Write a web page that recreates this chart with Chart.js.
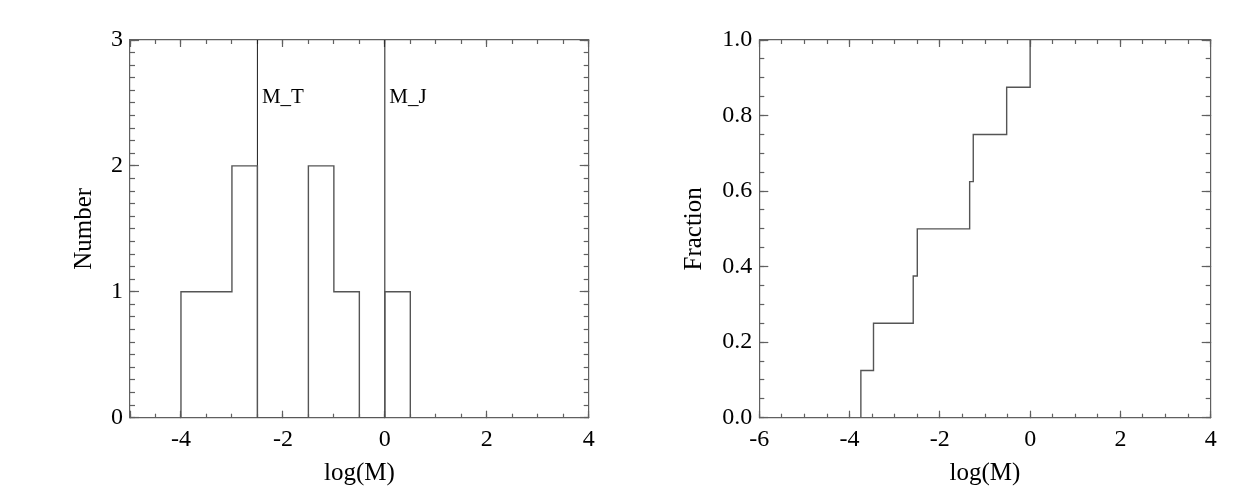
<!DOCTYPE html>
<html>
<head>
<meta charset="utf-8">
<script src="https://cdn.jsdelivr.net/npm/chart.js@4.4.0/dist/chart.umd.min.js"></script>
<style>
  body { margin: 0; background: #fff; }
  #wrap { position: relative; width: 1252px; height: 493px; }
  canvas { position: absolute; top: 0; }
</style>
</head>
<body>
<div id="wrap">
  <canvas id="hist" width="626" height="493" style="left:0"></canvas>
  <canvas id="cdf" width="626" height="493" style="left:626px"></canvas>
</div>
<script>
// histogram of log(M): left bin edges (width 0.5) and counts
const binEdges = [-4, -3.5, -3, -2.5, -2, -1.5, -1, -0.5, 0, 0.5];
const binCounts = [1, 1, 2, 0, 0, 2, 1, 0, 1];

// reference masses drawn as vertical lines
const markerNames = ['M_T', 'M_J'];
const markerLogM = [-2.5, 0];
const markerLabelY = 2.5;

// cumulative distribution
const sortedLogM = [-3.75, -3.47, -2.59, -2.50, -1.34, -1.26, -0.52, 0.0];
const cumFraction = [0.125, 0.25, 0.375, 0.5, 0.625, 0.75, 0.875, 1.0];

// axes
const histXRange = [-5, 4];
const histYRange = [0, 3];
const cdfXRange = [-6, 4];
const cdfYRange = [0, 1];
const xMajorTicks = [-6, -4, -2, 0, 2, 4];

const FONT = 'Liberation Serif';
const AXIS_COLOR = '#606060';
const LINE_COLOR = '#555';

// one side of the frame: a major axis (longer ticks, maybe labels) and a minor one
function sideAxes(id, pos, range, majorStep, minorStep, majorLen, minorLen, extra) {
    extra = extra || {};
    let horizontal = (pos === 'top' || pos === 'bottom');
    let size = extra.size || 0;
    let major = {
        type: 'linear',
        position: pos,
        min: range[0],
        max: range[1],
        weight: 1,
        grid: {
            drawOnChartArea: false,
            tickLength: -majorLen,
            tickColor: AXIS_COLOR,
            tickWidth: 1.2
        },
        border: { display: true, color: AXIS_COLOR, width: 1.2 },
        ticks: {
            display: !!extra.label,
            stepSize: majorStep,
            padding: extra.pad || 0,
            color: '#000',
            font: { family: FONT, size: 24 },
            maxRotation: 0,
            autoSkip: false,
            callback: extra.label || function () { return ''; }
        },
        title: {
            display: !!extra.title,
            text: extra.title || '',
            color: '#000',
            font: { family: FONT, size: 25 },
            padding: extra.titlePad || 0
        },
        afterFit: function (scale) {
            if (horizontal) scale.height = size; else scale.width = size;
        }
    };
    let minor = {
        type: 'linear',
        position: pos,
        min: range[0],
        max: range[1],
        weight: 0,
        grid: {
            drawOnChartArea: false,
            tickLength: -minorLen,
            tickColor: AXIS_COLOR,
            tickWidth: 1.2
        },
        border: { display: false },
        ticks: { display: false, stepSize: minorStep, autoSkip: false },
        afterFit: function (scale) {
            if (horizontal) scale.height = 0; else scale.width = 0;
        }
    };
    let out = {};
    out[id] = major;
    out[id + 'Minor'] = minor;
    return out;
}

function buildScales(xRange, yRange, yMajor, yMinor, yLabel, yTitle, yWidth, yTitlePad) {
    return Object.assign({},
        sideAxes('x', 'bottom', xRange, 2, 0.5, 7, 4, {
            size: 75.3, pad: 15, title: 'log(M)', titlePad: { top: 0, bottom: 4.5 },
            label: function (v) { return xMajorTicks.includes(v) ? String(v) : ''; }
        }),
        sideAxes('xTop', 'top', xRange, 2, 0.5, 7, 4),
        sideAxes('y', 'left', yRange, yMajor, yMinor, 9, 5, {
            size: yWidth, pad: 16, title: yTitle, titlePad: { top: yTitlePad, bottom: 0 },
            label: yLabel
        }),
        sideAxes('yRight', 'right', yRange, yMajor, yMinor, 9, 5)
    );
}

function stepLine(points, color, width) {
    return {
        data: points,
        borderColor: color,
        borderWidth: width,
        pointRadius: 0,
        stepped: true,
        fill: false,
        xAxisID: 'x',
        yAxisID: 'y'
    };
}

// histogram outline points
let histPoints = [{ x: binEdges[0], y: 0 }];
for (let i = 0; i < binCounts.length; i++) {
    histPoints.push({ x: binEdges[i], y: binCounts[i] });
}
histPoints.push({ x: binEdges[binEdges.length - 1], y: 0 });

let histDatasets = [stepLine(histPoints, LINE_COLOR, 1.4)];
markerLogM.forEach(function (m) {
    histDatasets.push(stepLine([{ x: m, y: histYRange[0] }, { x: m, y: histYRange[1] }], '#1a1a1a', 1));
});

let cdfPoints = [{ x: sortedLogM[0], y: 0 }];
for (let i = 0; i < sortedLogM.length; i++) {
    cdfPoints.push({ x: sortedLogM[i], y: cumFraction[i] });
}

const markerLabels = {
    id: 'markerLabels',
    afterDatasetsDraw: function (chart) {
        let ctx = chart.ctx, xs = chart.scales.x, ys = chart.scales.y;
        ctx.save();
        ctx.font = '21px "' + FONT + '"';
        ctx.fillStyle = '#000';
        ctx.textBaseline = 'alphabetic';
        markerNames.forEach(function (name, i) {
            ctx.fillText(name, xs.getPixelForValue(markerLogM[i]) + 4.5, ys.getPixelForValue(markerLabelY));
        });
        ctx.restore();
    }
};

const common = {
    responsive: false,
    animation: false,
    plugins: { legend: { display: false }, tooltip: { enabled: false } }
};

new Chart(document.getElementById('hist'), {
    type: 'line',
    data: { datasets: histDatasets },
    options: Object.assign({}, common, {
        layout: { padding: { left: 0, top: 40, right: 37.3, bottom: 0 } },
        scales: buildScales(histXRange, histYRange, 1, 0.1,
            function (v) { return Number.isInteger(v) ? String(v) : ''; },
            'Number', 130, 69)
    }),
    plugins: [markerLabels]
});

new Chart(document.getElementById('cdf'), {
    type: 'line',
    data: { datasets: [stepLine(cdfPoints, LINE_COLOR, 1.4)] },
    options: Object.assign({}, common, {
        layout: { padding: { left: 0, top: 40, right: 41.3, bottom: 0 } },
        scales: buildScales(cdfXRange, cdfYRange, 0.2, 0.05,
            function (v) { return v.toFixed(1); },
            'Fraction', 133.3, 53)
    })
});
</script>
</body>
</html>
